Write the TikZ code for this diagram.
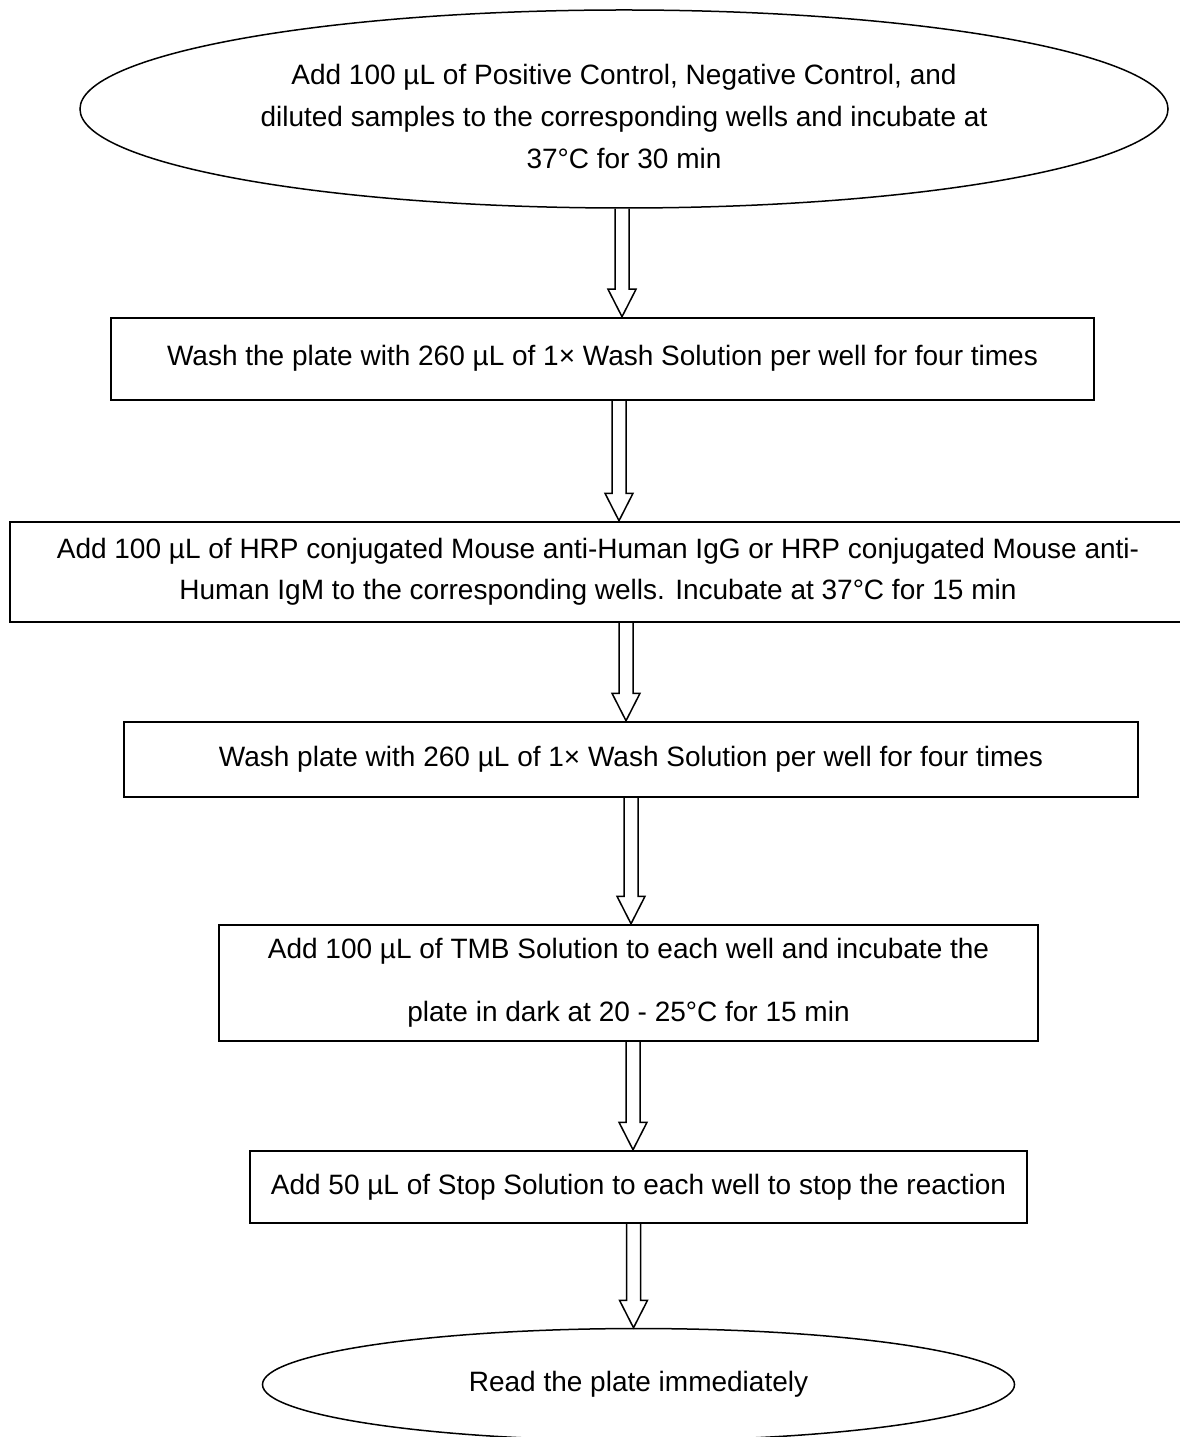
\documentclass[tikz,border=0pt]{standalone}
\usepackage{fontspec}
\setmainfont{Liberation Sans}
\usepackage{tikz}
\usetikzlibrary{positioning, shapes.geometric, calc}

% hollow block arrow from one node anchor down to another
\newcommand{\flowarrow}[2]{%
  \draw[hollowarr] let \p1=(#1), \p2=(#2) in
    (\x1-2.8pt,\y1) -- (\x1-2.8pt,\y2+11pt) -- (\x1-5.6pt,\y2+11pt) -- (\x1,\y2)
    -- (\x1+5.6pt,\y2+11pt) -- (\x1+2.8pt,\y2+11pt) -- (\x1+2.8pt,\y1);}

\begin{document}
\begin{tikzpicture}[
    x=0.4pt, y=-0.4pt,
    txt/.style={font=\fontsize{11.2}{16.6}\selectfont, align=center, inner sep=0pt},
    stepbox/.style={draw, line width=0.8pt, inner sep=0pt, txt},
    termbox/.style={draw, ellipse, line width=0.6pt, inner sep=0pt, txt},
    hollowarr/.style={line width=0.6pt, line join=miter}
]
\useasboundingbox (0,0) rectangle (1179,1437);

\node[termbox, minimum width=435.2pt, minimum height=79.2pt] (start) at (624,109) {};
\node[txt] (starttxt) at ([yshift=-3pt]start.center) {Add 100 µL of Positive Control, Negative Control, and\\diluted samples to the corresponding wells and incubate at\\37°C for 30 min};
\node[stepbox, minimum width=393.2pt, minimum height=32.8pt, below=43.2pt of start, xshift=-8.6pt] (wash1) {Wash the plate with 260 µL of 1× Wash Solution per well for four times};
\node[stepbox, minimum width=470.4pt, minimum height=40pt, below=48pt of wash1, xshift=-1.8pt] (hrp) {Add 100 µL of HRP conjugated Mouse anti-Human IgG or HRP conjugated Mouse anti-\\Human IgM to the corresponding wells. Incubate at 37°C for 15 min};
\node[stepbox, minimum width=405.6pt, minimum height=30pt, below=39.2pt of hrp, xshift=13.2pt] (wash2) {Wash plate with 260 µL of 1× Wash Solution per well for four times};
\node[stepbox, minimum width=327.6pt, minimum height=46.4pt, below=50.4pt of wash2, xshift=-1pt, font=\fontsize{11.2}{25.2}\selectfont] (tmb) {Add 100 µL of TMB Solution to each well and incubate the\\plate in dark at 20 - 25°C for 15 min};
\node[stepbox, minimum width=310.8pt, minimum height=28.8pt, below=43.2pt of tmb, xshift=4pt] (stop) {Add 50 µL of Stop Solution to each well to stop the reaction};
\node[termbox, minimum width=300.8pt, minimum height=44.8pt, below=41.6pt of stop] (read) {Read the plate immediately};

\flowarrow{[xshift=-0.8pt]start.south}{wash1.north}
\flowarrow{[xshift=6.6pt]wash1.south}{hrp.north}
\flowarrow{[xshift=11.2pt]hrp.south}{wash2.north}
\flowarrow{wash2.south}{tmb.north}
\flowarrow{[xshift=1.8pt]tmb.south}{stop.north}
\flowarrow{[xshift=-2pt]stop.south}{read.north}
\end{tikzpicture}
\end{document}
